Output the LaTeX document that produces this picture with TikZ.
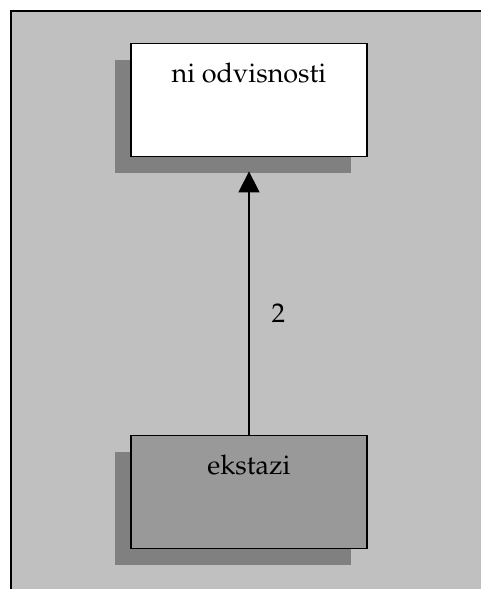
\documentclass[tikz,border=0pt]{standalone}
\usepackage[T1]{fontenc}
\usepackage{mathpazo}
\usetikzlibrary{arrows.meta, shadows}

\definecolor{bggray}{RGB}{192,192,192}
\definecolor{shadowgray}{RGB}{128,128,128}
\definecolor{boxgray}{RGB}{153,153,153}

\tikzset{
  classbox/.style={rectangle, draw, line width=0.7pt, anchor=north, inner sep=0pt,
    minimum width=118pt, text height=19.5pt, text depth=37pt,
    font=\fontsize{13.5}{16}\selectfont,
    drop shadow={shadow xshift=-8pt, shadow yshift=-8pt, fill=shadowgray, opacity=1}},
}

\begin{document}
\begin{tikzpicture}[x=0.5pt, y=-0.5pt]
  \useasboundingbox (0,0) rectangle (481,589);
  \clip (0,0) rectangle (481,589);
  \draw[line width=1pt, fill=bggray] (11,11) rectangle (500,610);
  \node (a) [classbox, fill=white]   at (249,43)  {ni odvisnosti};
  \node (b) [classbox, fill=boxgray] at (249,435) {ekstazi};
  \draw[line width=0.7pt, -{Triangle[width=10.5pt, length=10.5pt]}, shorten >=7pt]
    (b.north) -- (a.south)
    node (n) [pos=0.44, right=11pt, inner sep=0pt, font=\fontsize{13.5}{16}\selectfont] {2};
\end{tikzpicture}
\end{document}
